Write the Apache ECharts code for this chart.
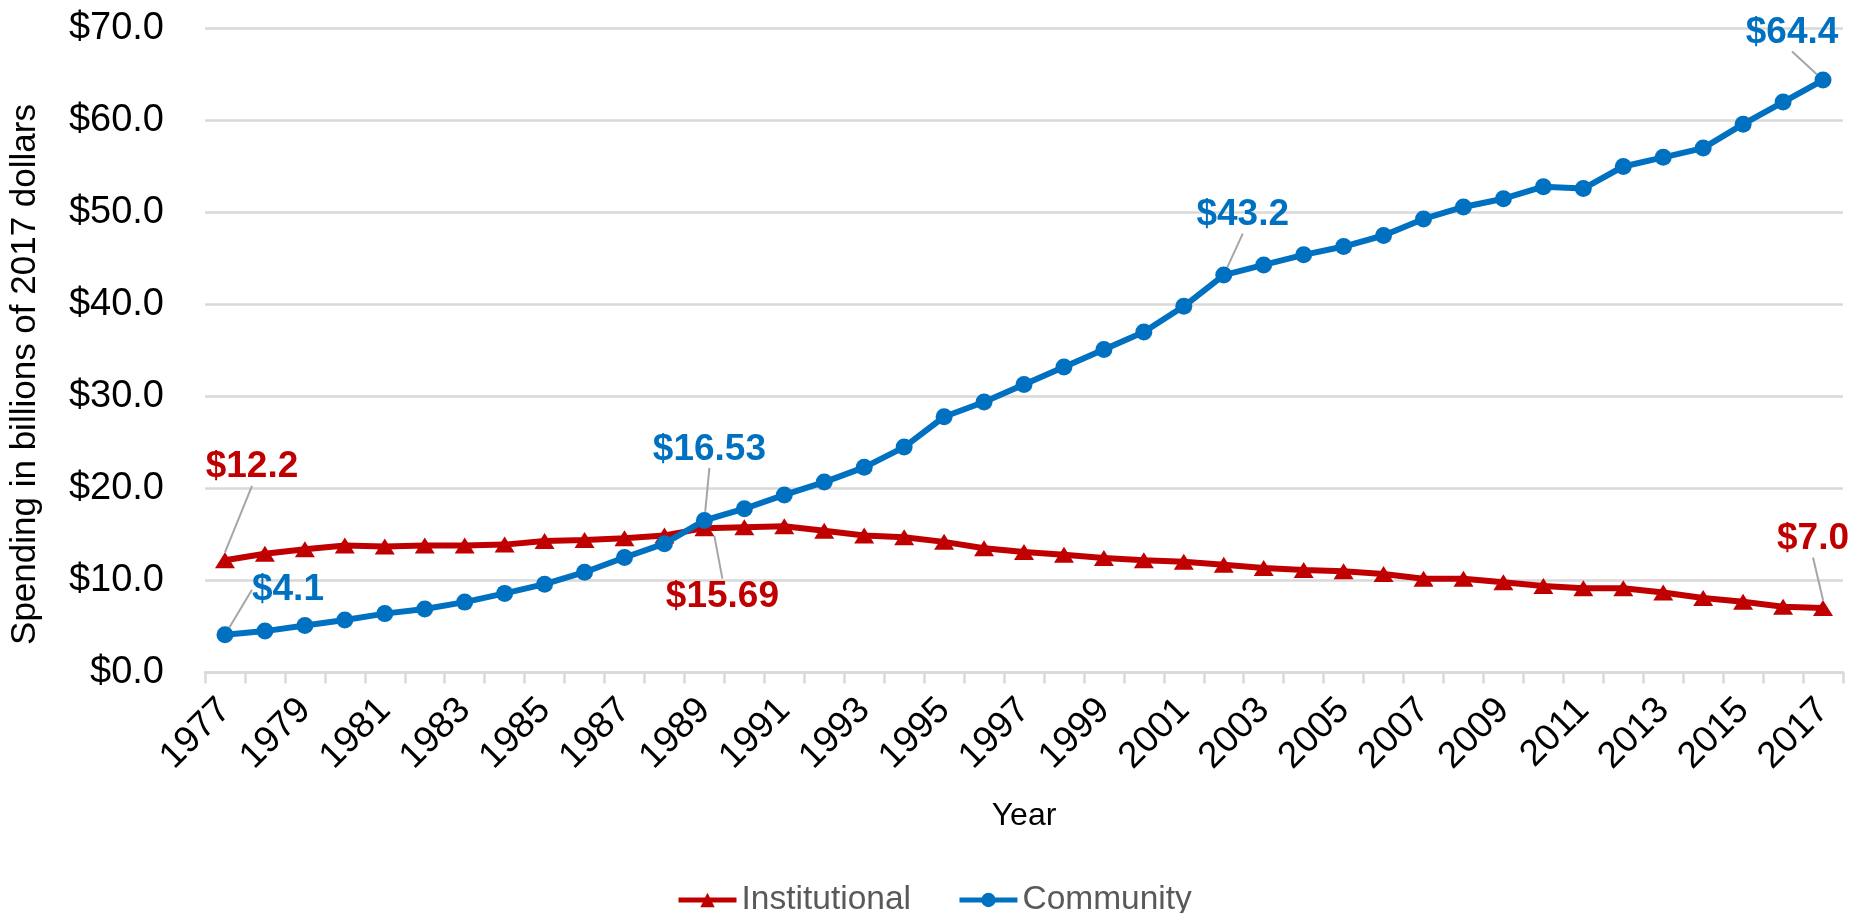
<!DOCTYPE html>
<html>
<head>
<meta charset="utf-8">
<script src="https://cdn.jsdelivr.net/npm/echarts@6/dist/echarts.min.js"></script>
<style>
  html, body { margin: 0; padding: 0; background: #fff; }
  #chart { width: 1862px; height: 913px; }
</style>
</head>
<body>
<div id="chart"></div>
<script>
const years = [];
for (let y = 1977; y <= 2017; y++) years.push(String(y));

const institutional = [12.2, 12.9, 13.4, 13.8, 13.7, 13.8, 13.8, 13.9, 14.3, 14.4, 14.6, 14.9, 15.69,
  15.8, 15.9, 15.4, 14.9, 14.7, 14.2, 13.5, 13.1, 12.8, 12.45, 12.2, 12.05, 11.7,
  11.35, 11.15, 11.0, 10.7, 10.2, 10.2, 9.8, 9.4, 9.15, 9.15, 8.7, 8.1, 7.7, 7.15, 7.0];

const community = [4.1, 4.5, 5.1, 5.7, 6.4, 6.9, 7.65, 8.6, 9.6, 10.9, 12.5, 14.0, 16.53,
  17.8, 19.3, 20.7, 22.3, 24.5, 27.8, 29.4, 31.3, 33.2, 35.1, 37.0, 39.8, 43.2,
  44.3, 45.4, 46.3, 47.5, 49.3, 50.6, 51.5, 52.8, 52.6, 55.0, 56.0, 57.0, 59.6, 62.0, 64.4];

const yTicks = [0, 10, 20, 30, 40, 50, 60, 70];

// indices of annotated points
const instLabelIdx = [0, 12, 40];
const commLabelIdx = [0, 12, 25, 40];

// label displacement (style only), keyed by data index
const instOffsets = { 0: [27, -93], 12: [18, 69], 40: [-10, -69] };
const commOffsets = { 0: [63, -45], 12: [5, -71], 25: [19, -60], 40: [-31, -47] };

const RED = '#C00000';
const BLUE = '#0070C0';
const FONT = '"Liberation Sans", Arial, Helvetica, sans-serif';

function money(v) {
  const s = String(v);
  return '$' + (s.indexOf('.') >= 0 ? s : s + '.0');
}

function buildData(values, labelIdx, color) {
  return values.map((v, i) => {
    if (labelIdx.indexOf(i) >= 0) {
      return {
        value: v,
        label: {
          show: true,
          position: 'inside',
          formatter: p => money(p.value),
          color: color,
          fontSize: 37,
          fontWeight: 'bold',
          fontFamily: FONT
        }
      };
    }
    return v;
  });
}

const chart = echarts.init(document.getElementById('chart'), null, { renderer: 'canvas' });

const option = {
  backgroundColor: '#ffffff',
  animation: false,
  textStyle: { fontFamily: FONT },
  grid: { left: 205, right: 19, top: 28.5, bottom: 240.5, containLabel: false },
  legend: {
    data: ['Institutional', 'Community'],
    left: 671,
    top: 878,
    itemWidth: 58,
    itemHeight: 18,
    itemGap: 46,
    lineStyle: { width: 5 },
    textStyle: { fontSize: 33.5, color: '#595959', fontFamily: FONT }
  },
  xAxis: {
    type: 'category',
    data: years,
    boundaryGap: true,
    axisLine: { show: true, lineStyle: { color: '#d9d9d9', width: 2.5 } },
    axisTick: { show: true, interval: 0, length: 11, lineStyle: { color: '#d9d9d9', width: 2.5 } },
    axisLabel: { interval: 1, rotate: 45, fontSize: 37, color: '#000', margin: 32, fontFamily: FONT },
    splitLine: { show: false },
    name: 'Year',
    nameLocation: 'middle',
    nameGap: 128,
    nameTextStyle: { fontSize: 32, color: '#000', fontFamily: FONT }
  },
  yAxis: {
    type: 'value',
    min: yTicks[0],
    max: yTicks[yTicks.length - 1],
    interval: 10,
    axisLine: { show: false },
    axisTick: { show: false },
    axisLabel: { formatter: v => '$' + v.toFixed(1), fontSize: 38, color: '#000', margin: 41, fontFamily: FONT },
    splitLine: { show: true, lineStyle: { color: '#d9d9d9', width: 2.5 } },
    name: 'Spending in billions of 2017 dollars',
    nameLocation: 'middle',
    nameGap: 162,
    nameTextStyle: { fontSize: 35, color: '#000', fontFamily: FONT, padding: [0, 48, 0, 0] }
  },
  series: [
    {
      name: 'Institutional',
      type: 'line',
      data: buildData(institutional, instLabelIdx, RED),
      symbol: 'triangle',
      symbolSize: [20, 16],
      itemStyle: { color: RED },
      lineStyle: { color: RED, width: 6 },
      label: { show: false },
      labelLayout: p => {
        const o = instOffsets[p.dataIndex];
        return o ? { dx: o[0], dy: o[1] } : {};
      },
      labelLine: { show: true, lineStyle: { color: '#a6a6a6', width: 2 } },
      z: 2
    },
    {
      name: 'Community',
      type: 'line',
      data: buildData(community, commLabelIdx, BLUE),
      symbol: 'circle',
      symbolSize: 17,
      itemStyle: { color: BLUE },
      lineStyle: { color: BLUE, width: 6 },
      label: { show: false },
      labelLayout: p => {
        const o = commOffsets[p.dataIndex];
        return o ? { dx: o[0], dy: o[1] } : {};
      },
      labelLine: { show: true, lineStyle: { color: '#a6a6a6', width: 2 } },
      z: 3
    }
  ]
};

chart.setOption(option);
</script>
</body>
</html>
